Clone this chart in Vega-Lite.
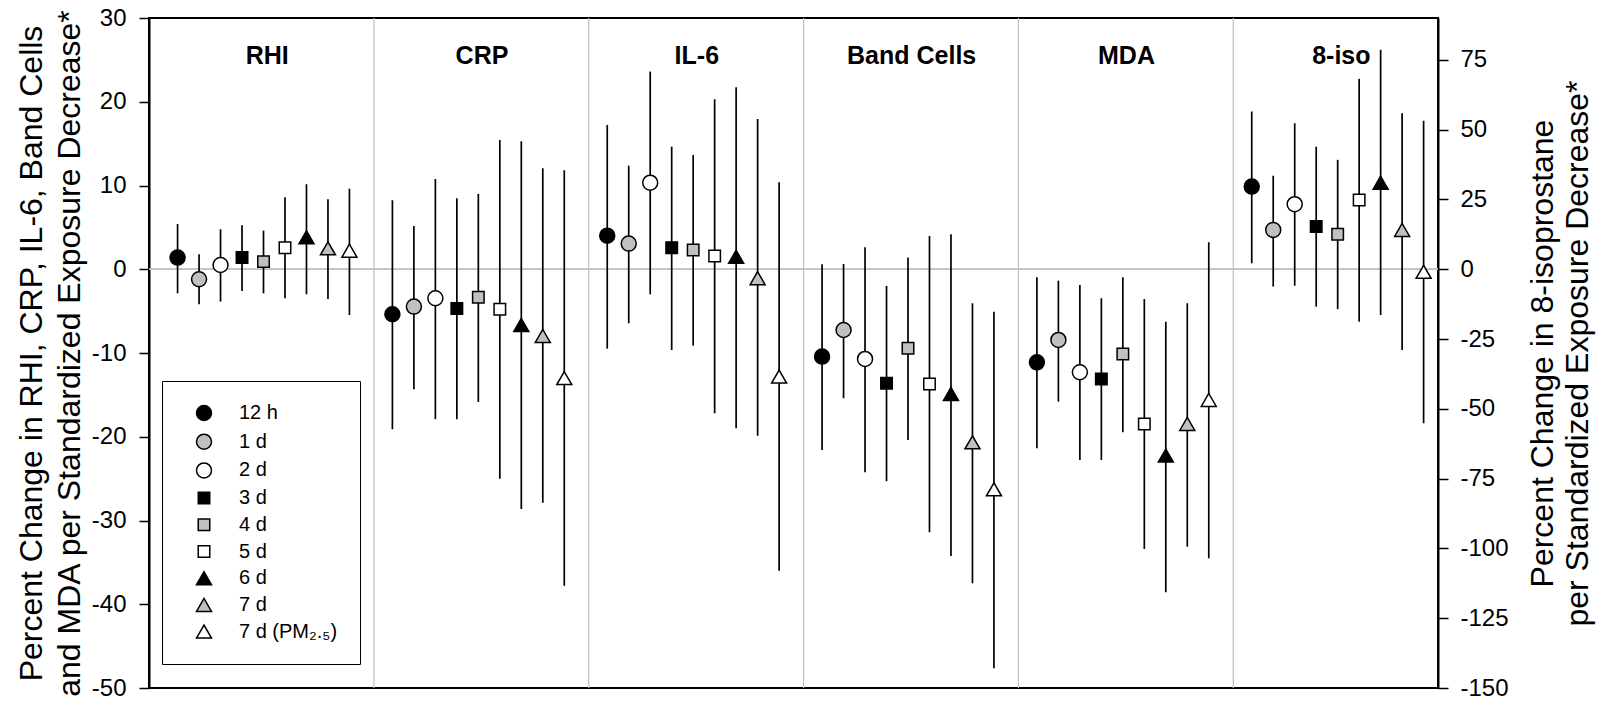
{
  "$schema": "https://vega.github.io/schema/vega-lite/v6.json",
  "autosize": {"type": "none"},
  "padding": {"left": 149, "top": 18, "right": 161, "bottom": 14},
  "width": 1289,
  "height": 670,
  "background": "white",
  "config": {
    "view": {"stroke": "black", "strokeWidth": 2},
    "font": "Liberation Sans",
    "axis": {
      "labelFont": "Liberation Sans", "labelFontSize": 24, "labelColor": "black",
      "titleFont": "Liberation Sans", "titleFontSize": 32, "titleFontWeight": "normal", "titleColor": "black",
      "tickColor": "black", "tickSize": 10, "tickWidth": 1.5,
      "domainColor": "black", "domainWidth": 2, "grid": false
    },
    "legend": {"labelFont": "Liberation Sans", "labelFontSize": 20, "labelColor": "black", "labelLimit": 400}
  },
  "datasets": {
    "main": [
      {"panel": "RHI", "time": "12 h", "est": 1.39, "lo": -2.87, "hi": 5.4},
      {"panel": "RHI", "time": "1 d", "est": -1.19, "lo": -4.18, "hi": 1.79},
      {"panel": "RHI", "time": "2 d", "est": 0.51, "lo": -3.87, "hi": 4.78},
      {"panel": "RHI", "time": "3 d", "est": 1.39, "lo": -2.59, "hi": 5.25},
      {"panel": "RHI", "time": "4 d", "est": 0.91, "lo": -2.87, "hi": 4.61},
      {"panel": "RHI", "time": "5 d", "est": 2.58, "lo": -3.46, "hi": 8.6},
      {"panel": "RHI", "time": "6 d", "est": 3.82, "lo": -2.99, "hi": 10.15},
      {"panel": "RHI", "time": "7 d", "est": 2.5, "lo": -3.55, "hi": 8.36},
      {"panel": "RHI", "time": "7 d (PM₂.₅)", "est": 2.22, "lo": -5.46, "hi": 9.62},
      {"panel": "CRP", "time": "12 h", "est": -5.37, "lo": -19.1, "hi": 8.24},
      {"panel": "CRP", "time": "1 d", "est": -4.46, "lo": -14.33, "hi": 5.17},
      {"panel": "CRP", "time": "2 d", "est": -3.46, "lo": -17.9, "hi": 10.78},
      {"panel": "CRP", "time": "3 d", "est": -4.7, "lo": -17.9, "hi": 8.48},
      {"panel": "CRP", "time": "4 d", "est": -3.34, "lo": -15.84, "hi": 9.0},
      {"panel": "CRP", "time": "5 d", "est": -4.78, "lo": -25.0, "hi": 15.44},
      {"panel": "CRP", "time": "6 d", "est": -6.65, "lo": -28.62, "hi": 15.28},
      {"panel": "CRP", "time": "7 d", "est": -7.96, "lo": -27.87, "hi": 12.06},
      {"panel": "CRP", "time": "7 d (PM₂.₅)", "est": -13.0, "lo": -37.78, "hi": 11.82},
      {"panel": "IL-6", "time": "12 h", "est": 4.01, "lo": -9.48, "hi": 17.23},
      {"panel": "IL-6", "time": "1 d", "est": 3.06, "lo": -6.45, "hi": 12.37},
      {"panel": "IL-6", "time": "2 d", "est": 10.34, "lo": -2.99, "hi": 23.6},
      {"panel": "IL-6", "time": "3 d", "est": 2.58, "lo": -9.64, "hi": 14.64},
      {"panel": "IL-6", "time": "4 d", "est": 2.3, "lo": -9.12, "hi": 13.65},
      {"panel": "IL-6", "time": "5 d", "est": 1.59, "lo": -17.19, "hi": 20.3},
      {"panel": "IL-6", "time": "6 d", "est": 1.5, "lo": -18.99, "hi": 21.73},
      {"panel": "IL-6", "time": "7 d", "est": -1.07, "lo": -19.87, "hi": 17.95},
      {"panel": "IL-6", "time": "7 d (PM₂.₅)", "est": -12.82, "lo": -35.99, "hi": 10.39},
      {"panel": "Band Cells", "time": "12 h", "est": -10.43, "lo": -21.58, "hi": 0.6},
      {"panel": "Band Cells", "time": "1 d", "est": -7.25, "lo": -15.4, "hi": 0.63},
      {"panel": "Band Cells", "time": "2 d", "est": -10.71, "lo": -24.24, "hi": 2.63},
      {"panel": "Band Cells", "time": "3 d", "est": -13.61, "lo": -25.31, "hi": -1.99},
      {"panel": "Band Cells", "time": "4 d", "est": -9.43, "lo": -20.38, "hi": 1.39},
      {"panel": "Band Cells", "time": "5 d", "est": -13.7, "lo": -31.4, "hi": 3.98},
      {"panel": "Band Cells", "time": "6 d", "est": -14.89, "lo": -34.23, "hi": 4.18},
      {"panel": "Band Cells", "time": "7 d", "est": -20.66, "lo": -37.49, "hi": -4.06},
      {"panel": "Band Cells", "time": "7 d (PM₂.₅)", "est": -26.27, "lo": -47.64, "hi": -5.06},
      {"panel": "MDA", "time": "12 h", "est": -11.11, "lo": -21.37, "hi": -0.96},
      {"panel": "MDA", "time": "1 d", "est": -8.44, "lo": -15.81, "hi": -1.36},
      {"panel": "MDA", "time": "2 d", "est": -12.3, "lo": -22.77, "hi": -1.87},
      {"panel": "MDA", "time": "3 d", "est": -13.1, "lo": -22.77, "hi": -3.46},
      {"panel": "MDA", "time": "4 d", "est": -10.11, "lo": -19.46, "hi": -0.96},
      {"panel": "MDA", "time": "5 d", "est": -18.47, "lo": -33.4, "hi": -3.55},
      {"panel": "MDA", "time": "6 d", "est": -22.25, "lo": -38.57, "hi": -6.26},
      {"panel": "MDA", "time": "7 d", "est": -18.47, "lo": -33.12, "hi": -4.06},
      {"panel": "MDA", "time": "7 d (PM₂.₅)", "est": -15.6, "lo": -34.5, "hi": 3.22}
    ],
    "iso": [
      {"panel": "8-iso", "time": "12 h", "est": 29.6, "lo": 2.15, "hi": 56.5},
      {"panel": "8-iso", "time": "1 d", "est": 14.1, "lo": -6.2, "hi": 33.5},
      {"panel": "8-iso", "time": "2 d", "est": 23.3, "lo": -5.9, "hi": 52.3},
      {"panel": "8-iso", "time": "3 d", "est": 15.3, "lo": -13.4, "hi": 43.9},
      {"panel": "8-iso", "time": "4 d", "est": 12.5, "lo": -14.3, "hi": 39.2},
      {"panel": "8-iso", "time": "5 d", "est": 24.8, "lo": -18.8, "hi": 68.2},
      {"panel": "8-iso", "time": "6 d", "est": 31.0, "lo": -16.4, "hi": 78.6},
      {"panel": "8-iso", "time": "7 d", "est": 14.1, "lo": -28.9, "hi": 55.9},
      {"panel": "8-iso", "time": "7 d (PM₂.₅)", "est": -0.9, "lo": -55.2, "hi": 53.2}
    ],
    "panels": [
      {"panel": "RHI"}, {"panel": "CRP"}, {"panel": "IL-6"}, {"panel": "Band Cells"}, {"panel": "MDA"}, {"panel": "8-iso"}
    ],
    "seps": [
      {"panel": "CRP"}, {"panel": "IL-6"}, {"panel": "Band Cells"}, {"panel": "MDA"}, {"panel": "8-iso"}
    ]
  },
  "layer": [
    {
      "data": {"name": "panels"},
      "mark": {"type": "rule", "color": "#c0c0c0", "strokeWidth": 1.2},
      "encoding": {
        "y": {"datum": 0, "type": "quantitative", "scale": {"domain": [-50, 30], "nice": false, "zero": false}, "axis": null}
      }
    },
    {
      "data": {"name": "seps"},
      "mark": {"type": "rule", "color": "#c0c0c0", "strokeWidth": 1.2},
      "encoding": {
        "x": {"field": "panel", "type": "nominal", "bandPosition": 0.047, "axis": null,
              "scale": {"type": "band", "domain": ["RHI", "CRP", "IL-6", "Band Cells", "MDA", "8-iso"], "paddingInner": 0, "paddingOuter": 0}}
      }
    },
    {
      "data": {"name": "panels"},
      "mark": {"type": "text", "font": "Liberation Sans", "fontSize": 25, "fontWeight": "bold", "color": "black", "baseline": "alphabetic", "align": "center"},
      "encoding": {
        "x": {"field": "panel", "type": "nominal", "bandPosition": 0.55, "axis": null,
              "scale": {"type": "band", "domain": ["RHI", "CRP", "IL-6", "Band Cells", "MDA", "8-iso"], "paddingInner": 0, "paddingOuter": 0}},
        "y": {"datum": 24.5, "type": "quantitative", "scale": {"domain": [-50, 30], "nice": false, "zero": false}, "axis": null},
        "text": {"field": "panel", "type": "nominal"}
      }
    },
    {
      "data": {"name": "main"},
      "mark": {"type": "rule", "color": "black", "strokeWidth": 1.7},
      "encoding": {
        "x": {"field": "panel", "type": "nominal", "axis": null,
              "scale": {"type": "band", "domain": ["RHI", "CRP", "IL-6", "Band Cells", "MDA", "8-iso"], "paddingInner": 0, "paddingOuter": 0}},
        "xOffset": {"field": "time", "type": "nominal",
              "scale": {"type": "point", "domain": ["12 h", "1 d", "2 d", "3 d", "4 d", "5 d", "6 d", "7 d", "7 d (PM₂.₅)"], "padding": 1.5, "align": 0.665}},
        "y": {"field": "lo", "type": "quantitative", "scale": {"domain": [-50, 30], "nice": false, "zero": false}, "axis": null},
        "y2": {"field": "hi"}
      }
    },
    {
      "data": {"name": "iso"},
      "mark": {"type": "rule", "color": "black", "strokeWidth": 1.7},
      "encoding": {
        "x": {"field": "panel", "type": "nominal", "axis": null,
              "scale": {"type": "band", "domain": ["RHI", "CRP", "IL-6", "Band Cells", "MDA", "8-iso"], "paddingInner": 0, "paddingOuter": 0}},
        "xOffset": {"field": "time", "type": "nominal",
              "scale": {"type": "point", "domain": ["12 h", "1 d", "2 d", "3 d", "4 d", "5 d", "6 d", "7 d", "7 d (PM₂.₅)"], "padding": 1.5, "align": 0.665}},
        "y": {"field": "lo", "type": "quantitative", "scale": {"domain": [-150, 90], "nice": false, "zero": false}, "axis": null},
        "y2": {"field": "hi"}
      }
    },
    {
      "data": {"name": "main"},
      "mark": {"type": "point", "filled": true, "stroke": "black", "strokeWidth": 1.5, "opacity": 1},
      "encoding": {
        "x": {"field": "panel", "type": "nominal", "axis": null,
              "scale": {"type": "band", "domain": ["RHI", "CRP", "IL-6", "Band Cells", "MDA", "8-iso"], "paddingInner": 0, "paddingOuter": 0}},
        "xOffset": {"field": "time", "type": "nominal",
              "scale": {"type": "point", "domain": ["12 h", "1 d", "2 d", "3 d", "4 d", "5 d", "6 d", "7 d", "7 d (PM₂.₅)"], "padding": 1.5, "align": 0.665}},
        "y": {"field": "est", "type": "quantitative", "scale": {"domain": [-50, 30], "nice": false, "zero": false},
              "axis": {"orient": "left", "values": [-50, -40, -30, -20, -10, 0, 10, 20, 30], "labelPadding": 13,
                       "labelExpr": "'' + datum.value",
                       "title": ["Percent Change in RHI, CRP, IL-6, Band Cells", "and MDA per Standardized Exposure Decrease*"],
                       "titleAngle": -90, "titleX": -108, "titleY": 335, "titleAlign": "center", "titleBaseline": "alphabetic", "titleLineHeight": 38}},
        "shape": {"field": "time", "type": "nominal",
                  "scale": {"domain": ["12 h", "1 d", "2 d", "3 d", "4 d", "5 d", "6 d", "7 d", "7 d (PM₂.₅)"],
                            "range": ["circle", "circle", "circle", "square", "square", "square", "triangle-up", "triangle-up", "triangle-up"]},
                  "legend": {"orient": "none", "legendX": 13, "legendY": 363, "title": null,
                             "strokeColor": "black", "padding": 22, "fillColor": "white",
                             "symbolOffset": 10, "labelOffset": 25, "rowPadding": 6.7,
                             "labelFont": "Liberation Sans", "labelFontSize": 20, "labelColor": "black",
                             "symbolStrokeColor": "black", "symbolStrokeWidth": 1.5, "symbolOpacity": 1}},
        "fill": {"field": "time", "type": "nominal",
                 "scale": {"domain": ["12 h", "1 d", "2 d", "3 d", "4 d", "5 d", "6 d", "7 d", "7 d (PM₂.₅)"],
                           "range": ["black", "#c0c0c0", "white", "black", "#c0c0c0", "white", "black", "#c0c0c0", "white"]}},
        "size": {"field": "time", "type": "nominal",
                 "scale": {"type": "ordinal", "domain": ["12 h", "1 d", "2 d", "3 d", "4 d", "5 d", "6 d", "7 d", "7 d (PM₂.₅)"],
                           "range": [225, 225, 225, 132, 132, 132, 225, 225, 225]}}
      }
    },
    {
      "data": {"name": "iso"},
      "mark": {"type": "point", "filled": true, "stroke": "black", "strokeWidth": 1.5, "opacity": 1},
      "encoding": {
        "x": {"field": "panel", "type": "nominal", "axis": null,
              "scale": {"type": "band", "domain": ["RHI", "CRP", "IL-6", "Band Cells", "MDA", "8-iso"], "paddingInner": 0, "paddingOuter": 0}},
        "xOffset": {"field": "time", "type": "nominal",
              "scale": {"type": "point", "domain": ["12 h", "1 d", "2 d", "3 d", "4 d", "5 d", "6 d", "7 d", "7 d (PM₂.₅)"], "padding": 1.5, "align": 0.665}},
        "y": {"field": "est", "type": "quantitative", "scale": {"domain": [-150, 90], "nice": false, "zero": false},
              "axis": {"orient": "right", "values": [-150, -125, -100, -75, -50, -25, 0, 25, 50, 75], "labelPadding": 12,
                       "labelExpr": "datum.value >= 0 ? '\u2002' + datum.value : '' + datum.value",
                       "title": ["Percent Change in 8-isoprostane", "per Standardized Exposure Decrease*"],
                       "titleAngle": -90, "titleX": 114, "titleY": 335, "titleAlign": "center", "titleBaseline": "alphabetic", "titleLineHeight": 35}},
        "shape": {"field": "time", "type": "nominal",
                  "scale": {"domain": ["12 h", "1 d", "2 d", "3 d", "4 d", "5 d", "6 d", "7 d", "7 d (PM₂.₅)"],
                            "range": ["circle", "circle", "circle", "square", "square", "square", "triangle-up", "triangle-up", "triangle-up"]}},
        "fill": {"field": "time", "type": "nominal",
                 "scale": {"domain": ["12 h", "1 d", "2 d", "3 d", "4 d", "5 d", "6 d", "7 d", "7 d (PM₂.₅)"],
                           "range": ["black", "#c0c0c0", "white", "black", "#c0c0c0", "white", "black", "#c0c0c0", "white"]}},
        "size": {"field": "time", "type": "nominal",
                 "scale": {"type": "ordinal", "domain": ["12 h", "1 d", "2 d", "3 d", "4 d", "5 d", "6 d", "7 d", "7 d (PM₂.₅)"],
                           "range": [225, 225, 225, 132, 132, 132, 225, 225, 225]}}
      }
    }
  ],
  "resolve": {"scale": {"y": "independent"}, "axis": {"y": "independent"}}
}
